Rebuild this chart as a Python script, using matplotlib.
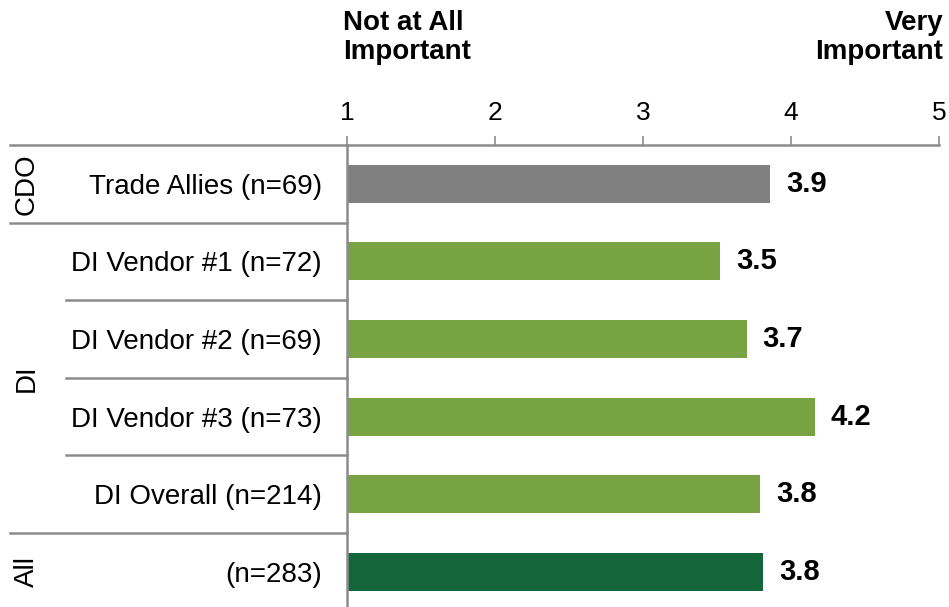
import matplotlib.pyplot as plt
import matplotlib.transforms as mtransforms

plt.rcParams['font.family'] = ['Liberation Sans', 'DejaVu Sans']

# Mean importance ratings (1 = not at all important, 5 = very important)
categories = ['Trade Allies (n=69)', 'DI Vendor #1 (n=72)', 'DI Vendor #2 (n=69)',
              'DI Vendor #3 (n=73)', 'DI Overall (n=214)', '(n=283)']
scores = [3.86, 3.52, 3.70, 4.16, 3.79, 3.81]
groups = ['CDO', 'DI', 'All']
group_rows = [(0, 0), (1, 4), (5, 5)]
colors = ['#808080', '#78A343', '#78A343', '#78A343', '#78A343', '#15653A']
ticks = [1, 2, 3, 4, 5]

line_col = '#8c8c8c'

fig = plt.figure(figsize=(9.49, 6.07), dpi=100)
W, H = 949, 607
x0, x1, ytop = 347, 939, 145
ax = fig.add_axes([x0 / W, 0, (x1 - x0) / W, 1 - ytop / H])

row_px = 77.6
ypos = list(range(len(categories)))
ax.barh(ypos, scores, left=0, height=0.49, color=colors)
ax.set_xlim(1, 5)
ax.set_ylim(-0.5 + (H - ytop) / row_px, -0.5)

for y, v in zip(ypos, scores):
    ax.annotate(f'{v:.1f}', xy=(v, y), xytext=(11.5, 0), textcoords='offset points',
                ha='left', va='center', fontsize=21, fontweight='bold')

# axis styling
for s in ['right', 'bottom']:
    ax.spines[s].set_visible(False)
for s in ['top', 'left']:
    ax.spines[s].set_color(line_col)
    ax.spines[s].set_linewidth(1.8)
ax.xaxis.tick_top()
ax.set_xticks(ticks)
ax.set_xticklabels([str(t) for t in ticks])
ax.tick_params(axis='x', direction='out', length=6.5, width=1.2, color=line_col,
               labelsize=19, pad=8)
ax.set_yticks(ypos)
ax.set_yticklabels(categories)
ax.tick_params(axis='y', length=0, labelsize=20, pad=18)

# separators in the label area
trans = mtransforms.blended_transform_factory(ax.transAxes, ax.transData)
x_outer = (10 - x0) / (x1 - x0)
x_inner = (66 - x0) / (x1 - x0)
ax.plot([x_outer, 0], [-0.5, -0.5], transform=trans, color=line_col, lw=1.8, clip_on=False)
for g, (a, b) in zip(groups, group_rows):
    ax.plot([x_outer, 0], [b + 0.5, b + 0.5], transform=trans, color=line_col,
            lw=1.8, clip_on=False)
    for r in range(a, b):
        ax.plot([x_inner, 0], [r + 0.5, r + 0.5], transform=trans, color=line_col,
                lw=1.8, clip_on=False)
    ax.text((27 - x0) / (x1 - x0), (a + b) / 2, g, transform=trans, rotation=90,
            ha='center', va='center', fontsize=20)

# scale end labels
fig.text(343 / W, 1 - 10 / H, 'Not at All\nImportant', ha='left', va='top',
         fontsize=20, fontweight='bold', linespacing=1.15)
fig.text(943 / W, 1 - 10 / H, 'Very\nImportant', ha='right', va='top',
         fontsize=20, fontweight='bold', linespacing=1.15)

fig.savefig('out.png', dpi=100)
